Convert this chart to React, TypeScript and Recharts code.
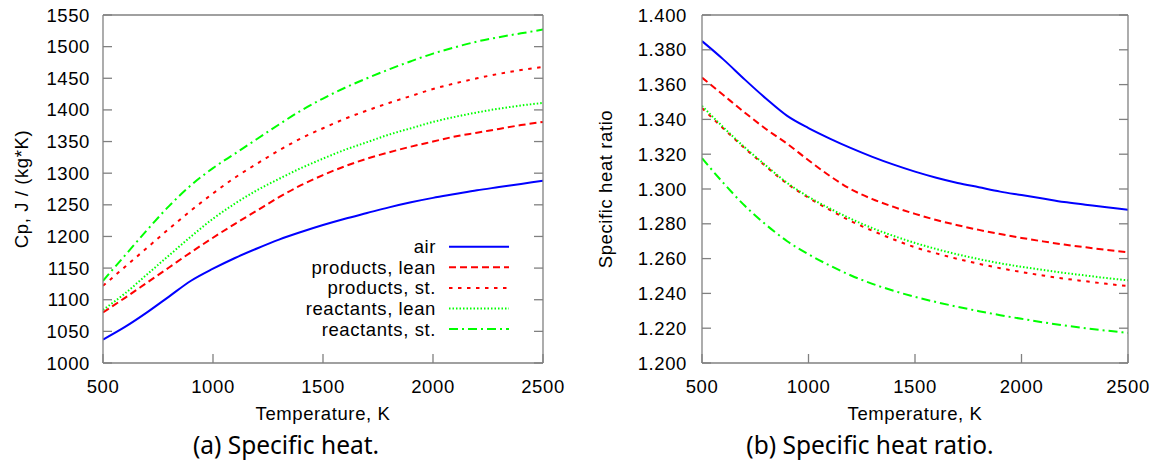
import React from 'react';
import { LineChart, Line, XAxis, YAxis, Legend, Label } from 'recharts';

// ---------- data ----------
const temperatures = [500, 600, 700, 800, 900, 1000, 1100, 1200, 1300, 1400, 1500, 1600, 1700, 1800, 1900, 2000, 2100, 2200, 2300, 2400, 2500];

// Specific heat Cp, J/(kg*K)
const cpAir = [1037, 1057, 1080, 1105, 1130, 1149, 1166, 1181, 1195, 1207, 1218, 1228, 1237, 1246, 1254, 1261, 1267, 1273, 1278, 1283, 1288];
const cpProductsLean = [1080, 1103, 1127, 1151, 1175, 1198, 1220, 1241, 1262, 1281, 1297, 1311, 1323, 1333, 1342, 1350, 1358, 1364, 1370, 1376, 1381];
const cpProductsSt = [1122, 1152, 1182, 1212, 1241, 1268, 1293, 1315, 1336, 1355, 1371, 1386, 1399, 1411, 1422, 1433, 1442, 1450, 1457, 1463, 1468];
const cpReactantsLean = [1084, 1110, 1140, 1170, 1200, 1228, 1252, 1273, 1291, 1308, 1323, 1337, 1349, 1361, 1371, 1381, 1389, 1396, 1402, 1407, 1411];
const cpReactantsSt = [1130, 1170, 1210, 1248, 1281, 1308, 1331, 1354, 1377, 1399, 1418, 1435, 1450, 1464, 1477, 1489, 1499, 1508, 1515, 1521, 1527];

// Specific heat ratio
const gammaAir = [1.385, 1.3745, 1.363, 1.352, 1.342, 1.335, 1.329, 1.3235, 1.3185, 1.314, 1.31, 1.3065, 1.3035, 1.301, 1.2985, 1.2965, 1.2945, 1.2925, 1.291, 1.2895, 1.288];
const gammaProductsLean = [1.364, 1.354, 1.344, 1.3345, 1.326, 1.3165, 1.3075, 1.2998, 1.2942, 1.2897, 1.2857, 1.2822, 1.2792, 1.2765, 1.2741, 1.2719, 1.2699, 1.2681, 1.2665, 1.265, 1.2637];
const gammaProductsSt = [1.3465, 1.3348, 1.3235, 1.313, 1.303, 1.295, 1.288, 1.2815, 1.276, 1.271, 1.2665, 1.263, 1.2598, 1.257, 1.2545, 1.2523, 1.2503, 1.2485, 1.247, 1.2455, 1.2442];
const gammaReactantsLean = [1.3478, 1.3355, 1.324, 1.3135, 1.3035, 1.2955, 1.2888, 1.2828, 1.2775, 1.273, 1.269, 1.2655, 1.2624, 1.2597, 1.2573, 1.2553, 1.2535, 1.2518, 1.2503, 1.2488, 1.2475];
const gammaReactantsSt = [1.3177, 1.3035, 1.2905, 1.2795, 1.27, 1.2625, 1.256, 1.2503, 1.2455, 1.2415, 1.238, 1.235, 1.2323, 1.2298, 1.2275, 1.2254, 1.2234, 1.2216, 1.22, 1.2186, 1.2173];

const seriesNames = ['air', 'products, lean', 'products, st.', 'reactants, lean', 'reactants, st.'];
const seriesKeys = ['air', 'prodLean', 'prodSt', 'reacLean', 'reacSt'];
const seriesColors = ['#0000ff', '#ff0000', '#ff0000', '#00ff00', '#00ff00'];
const seriesDashes = ['', '7 4', '3.5 5.5', '1.5 2', '9 4 2 4'];

const xTicks = [500, 1000, 1500, 2000, 2500];
const cpTicks = [1000, 1050, 1100, 1150, 1200, 1250, 1300, 1350, 1400, 1450, 1500, 1550];
const gammaTicks = [1.2, 1.22, 1.24, 1.26, 1.28, 1.3, 1.32, 1.34, 1.36, 1.38, 1.4];

const xTitle = 'Temperature, K';
const cpTitle = 'Cp, J / (kg*K)';
const gammaTitle = 'Specific heat ratio';
const captionA = '(a) Specific heat.';
const captionB = '(b) Specific heat ratio.';

// ---------- build rows ----------
const cpSeries = [cpAir, cpProductsLean, cpProductsSt, cpReactantsLean, cpReactantsSt];
const gammaSeries = [gammaAir, gammaProductsLean, gammaProductsSt, gammaReactantsLean, gammaReactantsSt];

const buildRows = (series: number[][]) =>
  temperatures.map((T, i) => {
    const row: Record<string, number> = { T };
    seriesKeys.forEach((k, j) => {
      row[k] = series[j][i];
    });
    return row;
  });

const cpRows = buildRows(cpSeries);
const gammaRows = buildRows(gammaSeries);

// ---------- styles ----------
const TICK_FONT = "'Liberation Sans', Arial, Helvetica, sans-serif";
const CAPTION_FONT = "'Noto Sans', 'Open Sans', sans-serif";
const FRAME = '#808080';
const TICK_LEN = 9;
const frameLine = { stroke: FRAME, strokeWidth: 1.3 };
const textProps = { fill: '#000', fontSize: 18.5, fontFamily: TICK_FONT, letterSpacing: 0.6 };

// ---------- tick renderers (inward tick marks, gnuplot style) ----------
const BOTTOM_MARGIN = 17;

const BottomTick = (props: any) => {
  const { x, y, payload } = props;
  const axisY = y - BOTTOM_MARGIN;
  return (
    <g>
      <line x1={x} x2={x} y1={axisY} y2={axisY - TICK_LEN} {...frameLine} />
      <text x={x} y={y} dy="0.71em" textAnchor="middle" {...textProps}>
        {payload.value}
      </text>
    </g>
  );
};

const makeLeftTick = (margin: number, fmt: (v: number) => string) => (props: any) => {
  const { x, y, payload } = props;
  const axisX = x + margin;
  return (
    <g>
      <line x1={axisX} x2={axisX + TICK_LEN} y1={y} y2={y} {...frameLine} />
      <text x={x} y={y} dy="0.355em" textAnchor="end" {...textProps}>
        {fmt(payload.value)}
      </text>
    </g>
  );
};

const TopTick = (props: any) => {
  const { x, y } = props;
  return <line x1={x} x2={x} y1={y} y2={y + TICK_LEN} {...frameLine} />;
};

const RightTick = (props: any) => {
  const { x, y } = props;
  return <line x1={x} x2={x - TICK_LEN} y1={y} y2={y} {...frameLine} />;
};

const cpLeftTick = makeLeftTick(13, (v) => String(v));
const gammaLeftTick = makeLeftTick(15, (v) => v.toFixed(3));

const LegendBox = () => (
  <svg width={240} height={110} style={{ display: 'block' }}>
    {seriesNames.map((name, i) => {
      const cy = 10.7 + i * 20.6;
      return (
        <g key={name}>
          <text x={156} y={cy + 6.5} textAnchor="end" {...textProps}>
            {name}
          </text>
          <line
            x1={169}
            x2={229}
            y1={cy}
            y2={cy}
            stroke={seriesColors[i]}
            strokeWidth={2}
            strokeDasharray={seriesDashes[i] || undefined}
          />
        </g>
      );
    })}
  </svg>
);

const renderLines = () =>
  seriesKeys.map((k, i) => (
    <Line
      key={k}
      type="monotone"
      dataKey={k}
      name={seriesNames[i]}
      stroke={seriesColors[i]}
      strokeWidth={2}
      strokeDasharray={seriesDashes[i] || undefined}
      dot={false}
      activeDot={false}
      isAnimationActive={false}
    />
  ));

const renderAxes = (domain: number[], yTicks: number[], yWidth: number, yMargin: number, leftTick: any, yTitle: string, yTitleDx: number) => [
  <XAxis
    key="bottom"
    dataKey="T"
    type="number"
    domain={[500, 2500]}
    ticks={xTicks}
    interval={0}
    allowDataOverflow
    height={60}
    tickSize={0}
    tickMargin={BOTTOM_MARGIN}
    tick={BottomTick}
    tickLine={false}
    axisLine={frameLine}
  >
    <Label value={xTitle} position="insideBottom" offset={3} {...textProps} />
  </XAxis>,
  <XAxis
    key="top"
    xAxisId="top"
    orientation="top"
    type="number"
    domain={[500, 2500]}
    ticks={xTicks}
    interval={0}
    allowDataOverflow
    mirror
    tickSize={0}
    tickMargin={0}
    tick={TopTick}
    tickLine={false}
    axisLine={frameLine}
  />,
  <YAxis
    key="left"
    type="number"
    domain={domain}
    ticks={yTicks}
    interval={0}
    allowDataOverflow
    width={yWidth}
    tickSize={0}
    tickMargin={yMargin}
    tick={leftTick}
    tickLine={false}
    axisLine={frameLine}
  >
    <Label value={yTitle} angle={-90} position="center" dx={yTitleDx} {...textProps} />
  </YAxis>,
  <YAxis
    key="right"
    yAxisId="right"
    orientation="right"
    type="number"
    domain={domain}
    ticks={yTicks}
    interval={0}
    allowDataOverflow
    mirror
    tickSize={0}
    tickMargin={0}
    tick={RightTick}
    tickLine={false}
    axisLine={frameLine}
  />,
];

const captionStyle: React.CSSProperties = {
  position: 'absolute',
  top: 433,
  width: 300,
  textAlign: 'center',
  fontFamily: CAPTION_FONT,
  fontSize: 24.5,
  lineHeight: '24.5px',
  color: '#000',
  whiteSpace: 'nowrap',
};

export default function App() {
  return (
    <div style={{ position: 'absolute', left: 0, top: 0, width: 1163, height: 467, background: '#fff', overflow: 'hidden' }}>
      {/* (a) Specific heat */}
      <div style={{ position: 'absolute', left: 0, top: 0 }}>
        <LineChart width={580} height={467} data={cpRows} margin={{ top: 15, right: 37, bottom: 44, left: 0 }}>
          {renderAxes([1000, 1550], cpTicks, 103, 13, cpLeftTick, cpTitle, -30)}
          {renderLines()}
          <Legend
            layout="vertical"
            align="center"
            verticalAlign="middle"
            content={LegendBox}
            wrapperStyle={{ position: 'absolute', left: 280, top: 236, width: 240, height: 110 }}
          />
        </LineChart>
      </div>

      {/* (b) Specific heat ratio */}
      <div style={{ position: 'absolute', left: 580, top: 0 }}>
        <LineChart width={583} height={467} data={gammaRows} margin={{ top: 15, right: 35, bottom: 44, left: 0 }}>
          {renderAxes([1.2, 1.4], gammaTicks, 122, 15, gammaLeftTick, gammaTitle, -36)}
          {renderLines()}
        </LineChart>
      </div>

      {/* captions */}
      <div style={{ ...captionStyle, left: 136 }}>{captionA}</div>
      <div style={{ ...captionStyle, left: 720 }}>{captionB}</div>
    </div>
  );
}
